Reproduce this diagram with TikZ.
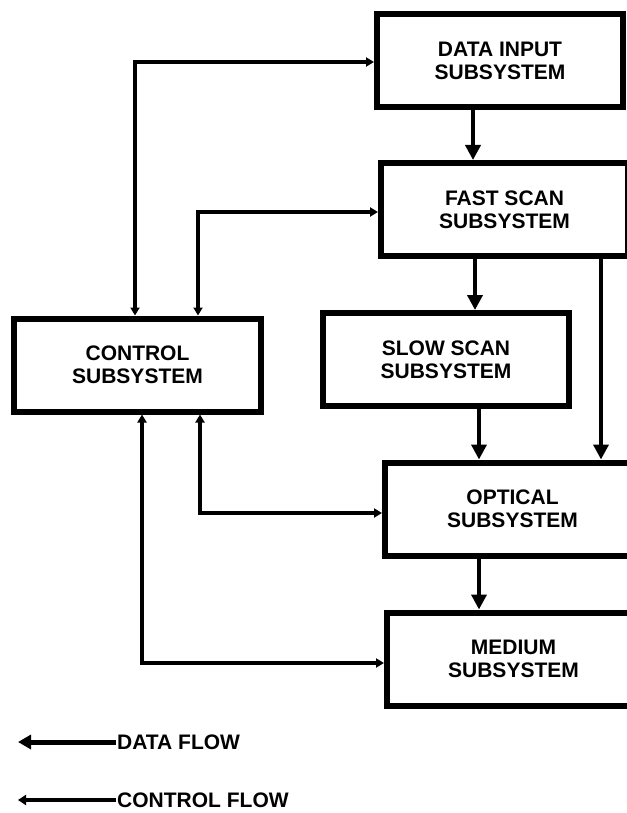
\documentclass[tikz,border=0pt]{standalone}
\usepackage{fontspec}
\setmainfont{Liberation Sans}
\usetikzlibrary{arrows.meta}
\begin{document}
\begin{tikzpicture}[x=1pt,y=-1pt,
  box/.style={draw,line width=6pt,minimum width=#1,minimum height=93pt,inner sep=0pt,
    align=center,font=\fontsize{21}{23}\selectfont\bfseries},
  data/.style={line width=4pt,-{Triangle[length=15pt,width=15pt]}},
  ctrl/.style={line width=3.6pt,{Triangle[length=8pt,width=9pt]}-{Triangle[length=8pt,width=9pt]}},
  legdata/.style={line width=5pt,-{Triangle[length=13pt,width=14pt]}},
  legctrl/.style={line width=4pt,-{Triangle[length=8pt,width=10pt]}},
  legtext/.style={anchor=west,inner sep=1pt,font=\fontsize{21}{23}\selectfont\bfseries}]
\useasboundingbox (0,0) rectangle (626,813);
\node[box=246pt] (di) at (500,60.5) {DATA INPUT\\SUBSYSTEM};
\node[box=247pt] (fs) at (504.5,209.5) {FAST SCAN\\SUBSYSTEM};
\node[box=246pt] (ss) at (446,359.5) {SLOW SCAN\\SUBSYSTEM};
\node[box=247pt] (cs) at (137.5,365) {CONTROL\\SUBSYSTEM};
\node[box=255pt] (os) at (512.5,509) {OPTICAL\\SUBSYSTEM};
\node[box=253pt] (ms) at (513.5,659) {MEDIUM\\SUBSYSTEM};
\coordinate (x473) at (473,0);
\coordinate (x475) at (475,0);
\coordinate (x479) at (479,0);
\coordinate (x601) at (601,0);
\coordinate (x135) at (135,0);
\coordinate (x198) at (198,0);
\coordinate (x200) at (200,0);
\coordinate (x142) at (142,0);
\coordinate (y62) at (0,62);
\coordinate (y212) at (0,212);
\coordinate (y513) at (0,513);
\coordinate (y663) at (0,663);
\draw[data] (di.south -| x473) -- (fs.north -| x473);
\draw[data] (fs.south -| x475) -- (ss.north -| x475);
\draw[data] (ss.south -| x479) -- (os.north -| x479);
\draw[data] (fs.south -| x601) -- (os.north -| x601);
\draw[data] (os.south -| x479) -- (ms.north -| x479);
\draw[ctrl] (di.west |- y62) -| (cs.north -| x135);
\draw[ctrl] (fs.west |- y212) -| (cs.north -| x198);
\draw[ctrl] (os.west |- y513) -| (cs.south -| x200);
\draw[ctrl] (ms.west |- y663) -| (cs.south -| x142);
\node[legtext] (ld) at (116,742) {DATA FLOW};
\node[legtext] (lc) at (116,800) {CONTROL FLOW};
\coordinate (ld0) at (18,742);
\coordinate (lc0) at (18,800);
\draw[legdata] (ld.west) -- (ld0);
\draw[legctrl] (lc.west) -- (lc0);
\end{tikzpicture}
\end{document}
